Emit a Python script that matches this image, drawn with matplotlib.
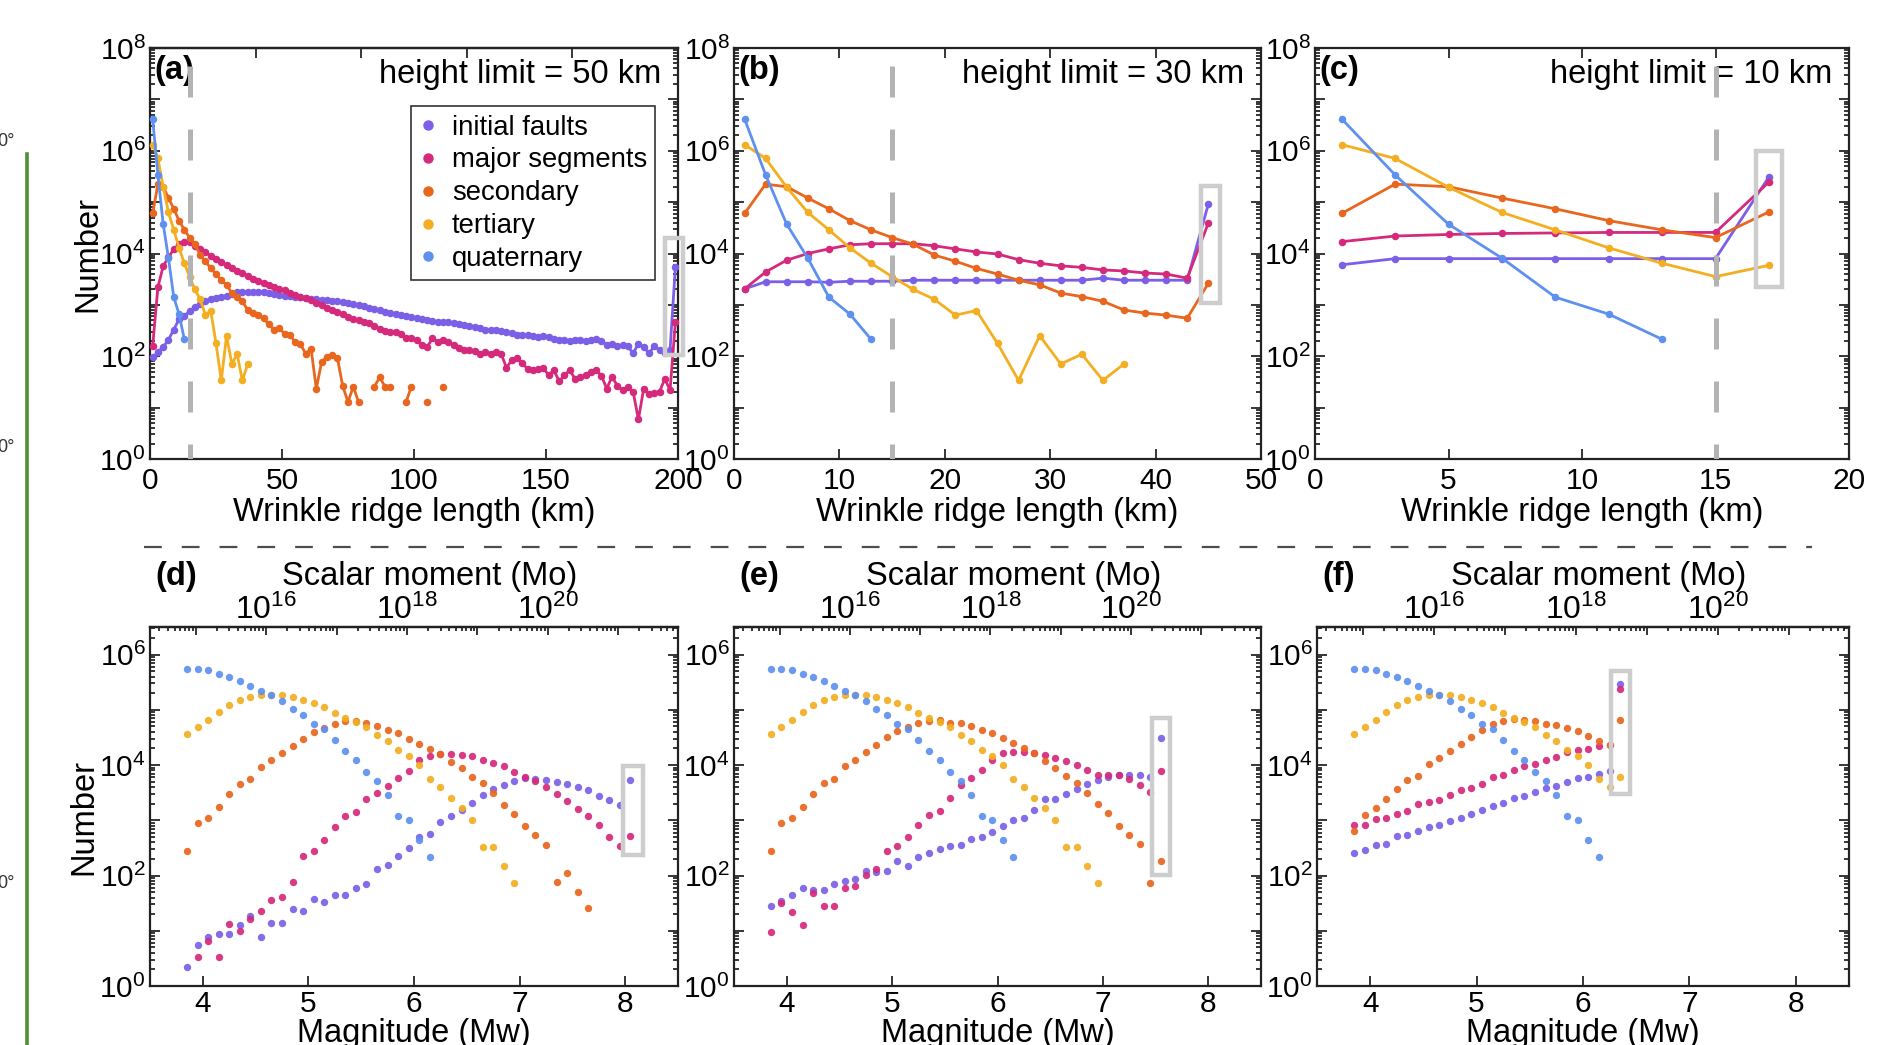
import numpy as np
import matplotlib
matplotlib.use("Agg")
import matplotlib.pyplot as plt
from matplotlib.ticker import LogLocator, FixedLocator, FuncFormatter, NullFormatter
from matplotlib.patches import Rectangle
from matplotlib.lines import Line2D

plt.rcParams['font.family'] = ['Liberation Sans', 'DejaVu Sans']
plt.rcParams['mathtext.fontset'] = 'custom'
plt.rcParams['mathtext.rm'] = 'Liberation Sans'
plt.rcParams['mathtext.default'] = 'regular'

W, H = 1886, 1045

names = ['initial faults', 'major segments', 'secondary', 'tertiary', 'quaternary']
colors = ['#7b5fe6', '#d52a7c', '#e9661f', '#f3ae21', '#5e91ef']

# ---- ridge length histograms (log10 of number), 2 km bins centred on 1, 3, 5 ... km
len_bins = np.arange(1, 201, 2)

quat_len = [6.62, 5.53, 4.57, 3.91, 3.15, 2.82, 2.33]
tert_len = [6.12, 5.85, 5.29, 4.80, 4.46, 4.11, 3.81, 3.55, 3.30, 3.11, 2.80, 2.89,
            2.25, 1.53, 2.40, 1.85, 2.04, 1.53, 1.85]
sec_len = [4.78, 5.35, 5.30, 5.08, 4.87, 4.64, 4.46, 4.31, 4.18, 3.97, 3.85, 3.71,
           3.60, 3.48, 3.39, 3.23, 3.16, 3.07, 2.90, 2.84, 2.80, 2.74,
           2.62, 2.52, 2.55, 2.43, 2.41, 2.28, 2.23, 2.05, 2.15, 1.37, 1.89, 1.99,
           2.02, 1.96, 1.42, 1.11, 1.41, 1.11, np.nan, np.nan, 1.41, 1.59, 1.41, 1.41,
           np.nan, np.nan, 1.11, 1.41, np.nan, np.nan, 1.11, np.nan, np.nan, 1.41]

init_a = [1.98, 2.08, 2.18, 2.32, 2.52, 2.72, 2.78, 2.88, 2.96, 3.02,
          3.07, 3.11, 3.14, 3.15, 3.18, 3.22, 3.25, 3.26, 3.26, 3.26,
          3.25, 3.25, 3.24, 3.22, 3.20, 3.18, 3.17, 3.16, 3.15, 3.13,
          3.12, 3.11, 3.10, 3.09, 3.08, 3.08, 3.05, 3.03, 3.02, 3.00,
          2.97, 2.94, 2.92, 2.90, 2.87, 2.85, 2.83, 2.80, 2.78, 2.77,
          2.75, 2.73, 2.71, 2.69, 2.67, 2.67, 2.66, 2.64, 2.62, 2.61,
          2.59, 2.57, 2.55, 2.52, 2.51, 2.51, 2.50, 2.48, 2.46, 2.42,
          2.41, 2.41, 2.39, 2.38, 2.39, 2.37, 2.34, 2.31, 2.32, 2.30,
          2.31, 2.31, 2.30, 2.32, 2.33, 2.30, 2.22, 2.23, 2.20, 2.21,
          2.19, 2.06, 2.24, 2.18, 2.06, 2.19, 2.12, 2.07, 2.13, 3.73]
major_a = [2.19, 3.35, 3.75, 3.93, 4.08, 4.18, 4.23, 4.22, 4.15, 4.09,
           4.03, 3.95, 3.89, 3.83, 3.77, 3.71, 3.66, 3.62, 3.57, 3.51,
           3.47, 3.43, 3.39, 3.35, 3.31, 3.29, 3.24, 3.19, 3.16, 3.13,
           3.10, 3.03, 3.00, 2.94, 2.90, 2.86, 2.82, 2.77, 2.73, 2.70,
           2.67, 2.64, 2.58, 2.54, 2.50, 2.48, 2.48, 2.44, 2.36, 2.35,
           2.31, 2.22, 2.18, 2.35, 2.28, 2.31, 2.27, 2.22, 2.16, 2.13,
           2.12, 2.10, 2.05, 2.08, 2.05, 2.08, 2.05, 1.78, 1.92, 1.97,
           1.86, 1.76, 1.73, 1.76, 1.77, 1.63, 1.73, 1.51, 1.63, 1.73,
           1.56, 1.60, 1.63, 1.70, 1.73, 1.62, 1.37, 1.60, 1.43, 1.34,
           1.40, 1.31, 0.77, 1.37, 1.27, 1.29, 1.31, 1.56, 1.34, 2.66]

init_b = [3.31, 3.45, 3.45, 3.45, 3.44, 3.46, 3.46, 3.46, 3.48, 3.48, 3.48,
          3.48, 3.48, 3.48, 3.48, 3.48, 3.48, 3.52, 3.48, 3.48, 3.48, 3.48, 4.96]
major_b = [3.31, 3.64, 3.87, 4.00, 4.09, 4.17, 4.19, 4.19, 4.19, 4.15, 4.09,
           4.03, 3.99, 3.88, 3.81, 3.76, 3.73, 3.68, 3.66, 3.62, 3.60, 3.52, 4.59]
sec_b_last = 3.42

init_c = [3.78, 3.90, 3.90, 3.90, 3.90, 3.90, 3.90, 3.90, 5.49]
major_c = [4.23, 4.34, 4.37, 4.39, 4.40, 4.41, 4.41, 4.41, 5.39]
sec_c_last = 4.81
tert_c_last = 3.77

# ---- magnitude histograms (log10 of number), 0.1 Mw bins
mw_bins = np.round(np.arange(3.85, 8.1, 0.1), 2)

quat_mw = [5.74, 5.74, 5.72, 5.65, 5.59, 5.53, 5.44, 5.34, 5.26, 5.16, 5.02, 4.91,
           4.74, 4.66, 4.46, 4.26, 4.09, 3.88, 3.71, 3.45, 3.08, 3.00, 2.64, 2.34]
tert_mw = [4.56, 4.69, 4.82, 4.96, 5.08, 5.17, 5.24, 5.27, 5.27, 5.26, 5.24, 5.17,
           5.12, 5.06, 4.95, 4.86, 4.78, 4.69, 4.55, 4.43, 4.27, 4.16, 4.01, 3.75,
           3.61, 3.40, 3.22, 3.00, 2.52, 2.52, 2.17, 1.87]

init_d = [0.35, 0.74, 0.89, 0.94, 0.94, 1.11, 1.26, 0.88, 1.14, 1.14, 1.39, 1.35,
          1.57, 1.52, 1.64, 1.65, 1.78, 1.85, 2.11, 2.19, 2.35, 2.50, 2.70, 2.75,
          2.97, 3.07, 3.19, 3.32, 3.45, 3.56, 3.64, 3.71, 3.76, 3.75, 3.73, 3.70,
          3.65, 3.60, 3.54, 3.44, 3.36, 3.28, 3.73]
major_d = [np.nan, 0.52, 0.82, 0.52, 1.12, 0.99, 1.21, 1.35, 1.55, 1.61, 1.88, 2.36,
           2.45, 2.64, 2.87, 3.08, 3.15, 3.38, 3.49, 3.62, 3.76, 3.89, 4.09, 4.16,
           4.20, 4.20, 4.18, 4.16, 4.10, 4.04, 3.98, 3.88, 3.78, 3.71, 3.61, 3.47,
           3.35, 3.20, 3.08, 2.92, 2.70, 2.53, 2.72]
sec_d = [2.45, 2.95, 3.04, 3.24, 3.47, 3.66, 3.74, 3.97, 4.09, 4.22, 4.35, 4.48,
         4.59, 4.68, 4.75, 4.79, 4.80, 4.76, 4.70, 4.64, 4.58, 4.47, 4.38, 4.29,
         4.20, 4.05, 3.94, 3.79, 3.67, 3.50, 3.28, 3.12, 2.90, 2.74, 2.56, 1.88,
         2.05, 1.70, 1.41]

init_e = [1.45, 1.54, 1.64, 1.78, 1.73, 1.73, 1.84, 1.91, 1.94, 2.09, 2.06, 2.09,
          2.26, 2.17, 2.33, 2.40, 2.48, 2.54, 2.55, 2.66, 2.70, 2.79, 2.90, 3.01,
          3.05, 3.18, 3.38, 3.39, 3.47, 3.57, 3.66, 3.73, 3.79, 3.82, 3.82, 3.82,
          3.79, 4.49]
major_e = [0.98, 1.51, 1.34, 1.10, 1.69, 1.45, 1.45, 1.77, 1.81, 2.01, 2.11, 2.44,
           2.53, 2.70, 2.91, 3.10, 3.17, 3.41, 3.64, 3.77, 3.91, 4.10, 4.21, 4.23,
           4.23, 4.21, 4.18, 4.12, 4.07, 4.00, 3.91, 3.82, 3.82, 3.82, 3.75, 3.64,
           3.51, 3.90]
sec_e = [2.45, 2.95, 3.05, 3.25, 3.47, 3.67, 3.75, 3.98, 4.10, 4.23, 4.36, 4.50,
         4.61, 4.69, 4.76, 4.80, 4.81, 4.77, 4.77, 4.70, 4.64, 4.58, 4.49, 4.40,
         4.31, 4.22, 4.08, 3.95, 3.81, 3.67, 3.50, 3.29, 3.13, 2.90, 2.74, 2.57,
         1.87, 2.26]

init_f = [2.41, 2.46, 2.55, 2.58, 2.71, 2.74, 2.80, 2.88, 2.91, 2.99, 3.05, 3.12,
          3.19, 3.26, 3.32, 3.40, 3.44, 3.51, 3.58, 3.62, 3.70, 3.76, 3.79, 3.84,
          3.90, 5.46]
major_f = [2.91, 2.91, 3.03, 3.05, 3.12, 3.16, 3.30, 3.33, 3.36, 3.45, 3.55, 3.59,
           3.66, 3.78, 3.82, 3.91, 3.99, 4.02, 4.09, 4.14, 4.23, 4.28, 4.30, 4.35,
           4.37, 5.37]
sec_f = [2.81, 3.09, 3.23, 3.38, 3.57, 3.73, 3.81, 4.02, 4.13, 4.25, 4.38, 4.51,
         4.63, 4.74, 4.80, 4.83, 4.81, 4.80, 4.75, 4.73, 4.68, 4.62, 4.52, 4.44,
         4.37, 4.81]
tert_f_last = 3.78

top_panels = [
    dict(tag='(a)', limit='50', xmax=200, xticks=[0, 50, 100, 150, 200],
         series=[init_a, major_a, sec_len, tert_len, quat_len],
         hl=(195, 202, 2.03, 4.31)),
    dict(tag='(b)', limit='30', xmax=50, xticks=[0, 10, 20, 30, 40, 50],
         series=[init_b, major_b, sec_len[:22] + [sec_b_last], tert_len, quat_len],
         hl=(44.3, 46.1, 3.04, 5.32)),
    dict(tag='(c)', limit='10', xmax=20, xticks=[0, 5, 10, 15, 20],
         series=[init_c, major_c, sec_len[:8] + [sec_c_last],
                 tert_len[:8] + [tert_c_last], quat_len],
         hl=(16.5, 17.5, 3.34, 6.0)),
]
bottom_panels = [
    dict(tag='(d)', series=[init_d, major_d, sec_d, tert_mw, quat_mw],
         hl=(7.98, 8.17, 2.37, 3.99)),
    dict(tag='(e)', series=[init_e, major_e, sec_e, tert_mw, quat_mw],
         hl=(7.47, 7.64, 2.01, 4.86)),
    dict(tag='(f)', series=[init_f, major_f, sec_f, tert_mw[:25] + [tert_f_last], quat_mw],
         hl=(6.26, 6.44, 3.48, 5.71)),
]

top_rects = [(150, 48, 678, 459), (734, 48, 1261, 459), (1315, 48, 1849, 459)]
bot_rects = [(150, 627, 678, 986), (734, 627, 1261, 986), (1317, 627, 1849, 986)]

FS = 23.5    # labels and annotations
TS = 21.5    # tick labels


def px_axes(fig, r):
    l, t, rr, b = r
    return fig.add_axes([l / W, 1 - b / H, (rr - l) / W, (b - t) / H])


def log_y(ax, lo, hi, labeled):
    ax.set_yscale('log')
    ax.set_ylim(lo, hi)
    ax.yaxis.set_major_locator(LogLocator(base=10, numticks=30))
    ax.yaxis.set_minor_locator(LogLocator(base=10, subs=np.arange(2, 10), numticks=30))
    ax.yaxis.set_major_formatter(FuncFormatter(
        lambda v, p: r'$10^{%d}$' % round(np.log10(v)) if round(np.log10(v)) in labeled else ''))
    ax.yaxis.set_minor_formatter(NullFormatter())


def frame(ax):
    for s in ax.spines.values():
        s.set_linewidth(1.6)
        s.set_color('#222222')
    ax.tick_params(which='both', direction='in', right=True, labelsize=TS, width=1.1)
    ax.tick_params(axis='y', pad=3)
    ax.tick_params(axis='x', pad=6)
    ax.tick_params(which='major', length=7)
    ax.tick_params(which='minor', length=3.5)


def highlight(ax, x0, x1, y0, y1):
    ax.add_patch(Rectangle((x0, 10 ** y0), x1 - x0, 10 ** y1 - 10 ** y0, fill=False,
                           ec='#cdcdcd', lw=3.2, clip_on=False, zorder=6))


fig = plt.figure(figsize=(W / 100, H / 100), dpi=100)
fig.patch.set_facecolor('white')

for i, (p, r) in enumerate(zip(top_panels, top_rects)):
    ax = px_axes(fig, r)
    for vals, c in zip(p['series'], colors):
        v = np.asarray(vals, float)
        ax.plot(len_bins[:len(v)], 10 ** v, '-', color=c, lw=2.0, marker='o', ms=4.4,
                zorder=3, clip_on=False)
    ax.set_xlim(0, p['xmax'])
    log_y(ax, 1, 1e8, [0, 2, 4, 6, 8])
    ax.set_xticks(p['xticks'])
    frame(ax)
    if i == 0:
        ax.tick_params(axis='x', top=False)
        sec = ax.secondary_xaxis('top')
        sec.set_xticks([40, 80, 120, 160])
        sec.tick_params(direction='in', length=7, width=1.1, labeltop=False)
        sec.spines['top'].set_linewidth(1.6)
    else:
        ax.tick_params(axis='x', which='major', top=True)
    ax.plot([15, 15], [1e8, 1], color='#b3b3b3', lw=3.6, ls=(9.0, (6.2, 6.4)), zorder=4)
    highlight(ax, *p['hl'])
    ax.text(0.008, 0.945, p['tag'], transform=ax.transAxes, fontsize=FS,
            fontweight='bold', ha='left', va='center')
    ax.text(0.968, 0.935, 'height limit = %s km' % p['limit'], transform=ax.transAxes,
            fontsize=FS, ha='right', va='center')
    ax.text(0.5, -0.13, 'Wrinkle ridge length (km)', transform=ax.transAxes,
            fontsize=FS, ha='center', va='center')
    if i == 0:
        ax.text(-0.118, 0.5, 'Number', transform=ax.transAxes, fontsize=FS,
                rotation=90, ha='center', va='center')
        handles = [Line2D([], [], ls='none', marker='o', ms=6.5, color=c) for c in colors]
        leg = ax.legend(handles, names, loc='upper right', bbox_to_anchor=(0.957, 0.858),
                        fontsize=19.8, frameon=True, fancybox=False, borderpad=0.3,
                        labelspacing=0.25, handlelength=0.7, handletextpad=0.5,
                        borderaxespad=0)
        leg.get_frame().set_edgecolor('black')
        leg.get_frame().set_linewidth(1.2)


def mw_to_m0(m):
    return 10 ** (1.5 * np.asarray(m, float) + 9.1)


def m0_to_mw(m0):
    return (np.log10(np.clip(np.asarray(m0, float), 1e-300, None)) - 9.1) / 1.5


for i, (p, r) in enumerate(zip(bottom_panels, bot_rects)):
    ax = px_axes(fig, r)
    for vals, c in zip(p['series'], colors):
        v = np.asarray(vals, float)
        ax.plot(mw_bins[:len(v)], 10 ** v, ls='none', marker='o', ms=5.3, color=c,
                alpha=0.92, mec='none', zorder=3)
    ax.set_xlim(3.5, 8.5)
    log_y(ax, 1, 10 ** 6.5, [0, 2, 4, 6])
    ax.set_xticks([4, 5, 6, 7, 8])
    frame(ax)
    ax.tick_params(axis='x', top=False, pad=3)
    sec = ax.secondary_xaxis('top', functions=(mw_to_m0, m0_to_mw))
    sec.set_xscale('log')
    sec.xaxis.set_major_locator(FixedLocator([10.0 ** k for k in range(15, 22)]))
    sec.xaxis.set_minor_locator(FixedLocator(
        [s * 10.0 ** k for k in range(14, 22) for s in range(2, 10)]))
    sec.xaxis.set_major_formatter(FuncFormatter(
        lambda v, pos: r'$10^{%d}$' % round(np.log10(v)) if round(np.log10(v)) % 2 == 0 else ''))
    sec.xaxis.set_minor_formatter(NullFormatter())
    sec.tick_params(which='both', direction='in', labelsize=23, width=1.1, pad=0.5)
    sec.tick_params(which='major', length=6)
    sec.tick_params(which='minor', length=3)
    sec.spines['top'].set_linewidth(1.6)
    highlight(ax, *p['hl'])
    ax.text(0.011, 1.14, p['tag'], transform=ax.transAxes, fontsize=FS,
            fontweight='bold', ha='left', va='center')
    ax.text(0.53, 1.14, 'Scalar moment (Mo)', transform=ax.transAxes, fontsize=FS,
            ha='center', va='center')
    ax.text(0.5, -0.133, 'Magnitude (Mw)', transform=ax.transAxes, fontsize=FS,
            ha='center', va='center')
    if i == 0:
        ax.text(-0.125, 0.47, 'Number', transform=ax.transAxes, fontsize=FS,
                rotation=90, ha='center', va='center')

# separator between the two rows
fig.add_artist(Line2D([144 / W, 1812 / W], [1 - 547 / H, 1 - 547 / H], color='#4d4d4d',
                      lw=1.6, ls=(0, (8, 9))))
# strip at the left edge
fig.add_artist(Line2D([27 / W, 27 / W], [0, 1 - 154 / H], color='#4f8f35', lw=2.6))
for yy in (142, 447, 884):
    fig.text(-3 / W, 1 - yy / H, '0°', fontsize=13, color='#333333', ha='left', va='center')

fig.savefig('out.png', dpi=100)
